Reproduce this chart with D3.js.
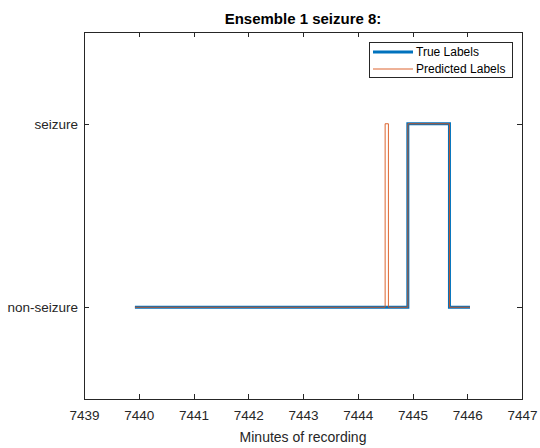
<!DOCTYPE html>
<html>
<head>
<meta charset="utf-8">
<script src="https://cdn.jsdelivr.net/npm/d3@7"></script>
<style>
  html, body { margin: 0; padding: 0; background: #fff; }
  svg { display: block; font-family: "Liberation Sans", Arial, sans-serif; }
</style>
</head>
<body>
<svg id="chart" width="540" height="448"></svg>
<script>
// Step signals: time (minutes) where each level begins, and the level (0 = non-seizure, 1 = seizure)
const trueTimes = [7439.93, 7444.915, 7445.675, 7446.05];
const trueValues = [0, 1, 0, 0];
const predTimes = [7439.93, 7444.50, 7444.56, 7444.915, 7445.675, 7446.05];
const predValues = [0, 1, 0, 1, 0, 0];

const xTicks = [7439, 7440, 7441, 7442, 7443, 7444, 7445, 7446, 7447];
const yTicks = [0, 1];
const yTickLabels = ["non-seizure", "seizure"];
const seriesNames = ["True Labels", "Predicted Labels"];

const svg = d3.select("#chart");
const plotL = 84, plotR = 522, plotT = 32, plotB = 399;

const x = d3.scaleLinear().domain([7439, 7447]).range([plotL, plotR]);
const y = d3.scaleLinear().domain([-0.5, 1.5]).range([plotB, plotT]);

const axisColor = "#262626";
const blue = "#0072BD", orange = "#D95319";

// plot box
svg.append("rect")
  .attr("x", plotL).attr("y", plotT)
  .attr("width", plotR - plotL).attr("height", plotB - plotT)
  .attr("fill", "#fff").attr("stroke", axisColor).attr("stroke-width", 1)
  .attr("shape-rendering", "crispEdges");

// ticks on all four sides (pointing inward)
const tl = 5;
const xb = svg.append("g").attr("transform", `translate(0,${plotB})`)
  .call(d3.axisBottom(x).tickValues(xTicks).tickSizeInner(-tl).tickSizeOuter(0).tickPadding(11).tickFormat(d3.format("d")));
const xt = svg.append("g").attr("transform", `translate(0,${plotT})`)
  .call(d3.axisTop(x).tickValues(xTicks).tickSizeInner(-tl).tickSizeOuter(0).tickFormat(""));
const yl = svg.append("g").attr("transform", `translate(${plotL},0)`)
  .call(d3.axisLeft(y).tickValues(yTicks).tickSizeInner(-tl).tickSizeOuter(0).tickPadding(6)
    .tickFormat((d, i) => yTickLabels[i]));
const yr = svg.append("g").attr("transform", `translate(${plotR},0)`)
  .call(d3.axisRight(y).tickValues(yTicks).tickSizeInner(-tl).tickSizeOuter(0).tickFormat(""));

[xb, xt, yl, yr].forEach(g => {
  g.select(".domain").remove();
  g.selectAll(".tick line").attr("stroke", axisColor).attr("shape-rendering", "crispEdges");
  g.selectAll(".tick text").attr("fill", axisColor).style("font-size", "13.5px")
    .style("font-family", "\"Liberation Sans\", Arial, sans-serif");
});

// series
const line = d3.line()
  .x(d => x(d[0]))
  .y(d => y(d[1]))
  .curve(d3.curveStepAfter);

const trueData = trueTimes.map((t, i) => [t, trueValues[i]]);
const predData = predTimes.map((t, i) => [t, predValues[i]]);

svg.append("path").datum(trueData)
  .attr("d", line).attr("fill", "none")
  .attr("stroke", blue).attr("stroke-width", 3).attr("stroke-linejoin", "miter");
svg.append("path").datum(predData)
  .attr("d", line).attr("fill", "none")
  .attr("stroke", orange).attr("stroke-width", 0.9);

// title and x label
svg.append("text").attr("x", (plotL + plotR) / 2).attr("y", 24)
  .attr("text-anchor", "middle").attr("font-weight", "bold")
  .style("font-size", "15px").attr("fill", "#000").text("Ensemble 1 seizure 8:");
svg.append("text").attr("x", (plotL + plotR) / 2).attr("y", 442)
  .attr("text-anchor", "middle").style("font-size", "14px")
  .attr("fill", axisColor).text("Minutes of recording");

// legend
const lg = svg.append("g");
const lx = 369, ly = 42, lw = 143, lh = 35;
lg.append("rect").attr("x", lx).attr("y", ly).attr("width", lw).attr("height", lh)
  .attr("fill", "#fff").attr("stroke", axisColor).attr("stroke-width", 1)
  .attr("shape-rendering", "crispEdges");
const legendItems = [
  { name: seriesNames[0], color: blue, w: 3 },
  { name: seriesNames[1], color: orange, w: 0.9 }
];
legendItems.forEach((it, i) => {
  const cy = ly + 10 + i * 17;
  lg.append("line").attr("x1", lx + 4).attr("x2", lx + 44).attr("y1", cy).attr("y2", cy)
    .attr("stroke", it.color).attr("stroke-width", it.w);
  lg.append("text").attr("x", lx + 47).attr("y", cy + 4)
    .style("font-size", "12px").attr("fill", "#000").text(it.name);
});
</script>
</body>
</html>
